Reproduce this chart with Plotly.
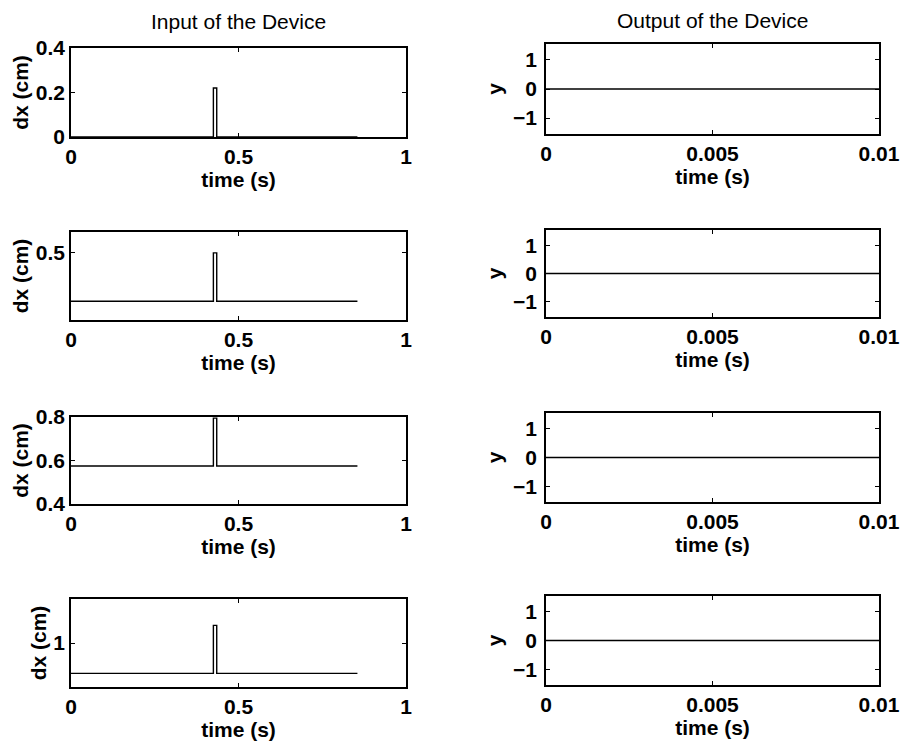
import plotly.graph_objects as go

# ---- data ----
t_in = [0.0, 0.425, 0.425, 0.435, 0.435, 0.855]
dx_1 = [0.0, 0.0, 0.22, 0.22, 0.0, 0.0]
dx_2 = [0.28, 0.28, 0.50, 0.50, 0.28, 0.28]
dx_3 = [0.575, 0.575, 0.795, 0.795, 0.575, 0.575]
dx_4 = [0.862, 0.862, 1.08, 1.08, 0.862, 0.862]
inputs = [dx_1, dx_2, dx_3, dx_4]

t_out = [0.0, 0.01]
y_out_1 = [0.0, 0.0]
y_out_2 = [0.0, 0.0]
y_out_3 = [0.0, 0.0]
y_out_4 = [0.0, 0.0]
outputs = [y_out_1, y_out_2, y_out_3, y_out_4]

in_yranges = [[0.0, 0.4], [0.195, 0.595], [0.4, 0.8], [0.8, 1.2]]
in_yticks = [[0, 0.2, 0.4], [0.5], [0.4, 0.6, 0.8], [1]]
in_yticktext = [["0", "0.2", "0.4"], ["0.5"], ["0.4", "0.6", "0.8"], ["1"]]
in_xticks = [0, 0.5, 1]
in_xticktext = ["0", "0.5", "1"]

out_yrange = [-1.55, 1.55]
out_yticks = [-1, 0, 1]
out_yticktext = ["\u22121", "0", "1"]
out_xticks = [0, 0.005, 0.01]
out_xticktext = ["0", "0.005", "0.01"]

title_in = "Input of the Device"
title_out = "Output of the Device"
xlabel = "time (s)"
ylabel_in = "dx (cm)"
ylabel_out = "y"

# ---- layout geometry (pixels in a 904x744 page) ----
W, H = 904, 744
left_x = (71, 406)
right_x = (546, 879)
left_y = [(48, 137), (232, 320), (417, 504), (599, 687)]
right_y = [(44, 134), (230, 317), (413, 502), (596, 685)]

FONT = "Liberation Sans, Arial, Helvetica, sans-serif"
TICKFONT = dict(family=FONT, size=21, color="black", weight="bold")
TITLEFONT = dict(family=FONT, size=21, color="black")


def xdom(px):
    return [px[0] / W, px[1] / W]


def ydom(py):
    return [1 - py[1] / H, 1 - py[0] / H]


fig = go.Figure()
layout = dict(
    width=W, height=H,
    margin=dict(l=0, r=0, t=0, b=0, autoexpand=False),
    paper_bgcolor="white", plot_bgcolor="white",
    showlegend=False,
)


def axis_common():
    return dict(
        showline=True, linecolor="black", linewidth=1.6, mirror="ticks",
        ticks="inside", ticklen=4, tickwidth=1.3, tickcolor="black",
        showgrid=False, zeroline=False, tickfont=TICKFONT,
        automargin=False, fixedrange=True,
    )


for i in range(4):
    # input panel
    n = 2 * i + 1
    xa = "xaxis" if n == 1 else f"xaxis{n}"
    ya = "yaxis" if n == 1 else f"yaxis{n}"
    xr = "x" if n == 1 else f"x{n}"
    yr = "y" if n == 1 else f"y{n}"
    fig.add_trace(go.Scatter(x=t_in, y=inputs[i], mode="lines",
                             line=dict(color="black", width=1.4),
                             xaxis=xr, yaxis=yr, hoverinfo="skip"))
    layout[xa] = dict(axis_common(), domain=xdom(left_x), anchor=yr,
                      range=[0, 1], tickvals=in_xticks, ticktext=in_xticktext,
                      ticklabelstandoff=0,
                      title=dict(text=xlabel, font=TICKFONT, standoff=0))
    layout[ya] = dict(axis_common(), domain=ydom(left_y[i]), anchor=xr,
                      range=in_yranges[i], tickvals=in_yticks[i],
                      ticktext=in_yticktext[i], ticklabelstandoff=0,
                      title=dict(text=ylabel_in, font=TICKFONT, standoff=1))
    # output panel
    n = 2 * i + 2
    xa = f"xaxis{n}"
    ya = f"yaxis{n}"
    xr = f"x{n}"
    yr = f"y{n}"
    fig.add_trace(go.Scatter(x=t_out, y=outputs[i], mode="lines",
                             line=dict(color="black", width=1.4),
                             xaxis=xr, yaxis=yr, hoverinfo="skip"))
    layout[xa] = dict(axis_common(), domain=xdom(right_x), anchor=yr,
                      range=[0, 0.01], tickvals=out_xticks,
                      ticktext=out_xticktext, ticklabelstandoff=0,
                      title=dict(text=xlabel, font=TICKFONT, standoff=0))
    layout[ya] = dict(axis_common(), domain=ydom(right_y[i]), anchor=xr,
                      range=out_yrange, tickvals=out_yticks,
                      ticktext=out_yticktext, ticklabelstandoff=3,
                      title=dict(text=ylabel_out, font=TICKFONT, standoff=5))

layout["annotations"] = [
    dict(text=title_in, xref="paper", yref="paper",
         x=(left_x[0] + left_x[1]) / 2 / W, y=1 - 22 / H,
         xanchor="center", yanchor="middle", showarrow=False,
         font=TITLEFONT),
    dict(text=title_out, xref="paper", yref="paper",
         x=(right_x[0] + right_x[1]) / 2 / W, y=1 - 21 / H,
         xanchor="center", yanchor="middle", showarrow=False,
         font=TITLEFONT),
]

fig.update_layout(**layout)
fig.write_html("out.html")
